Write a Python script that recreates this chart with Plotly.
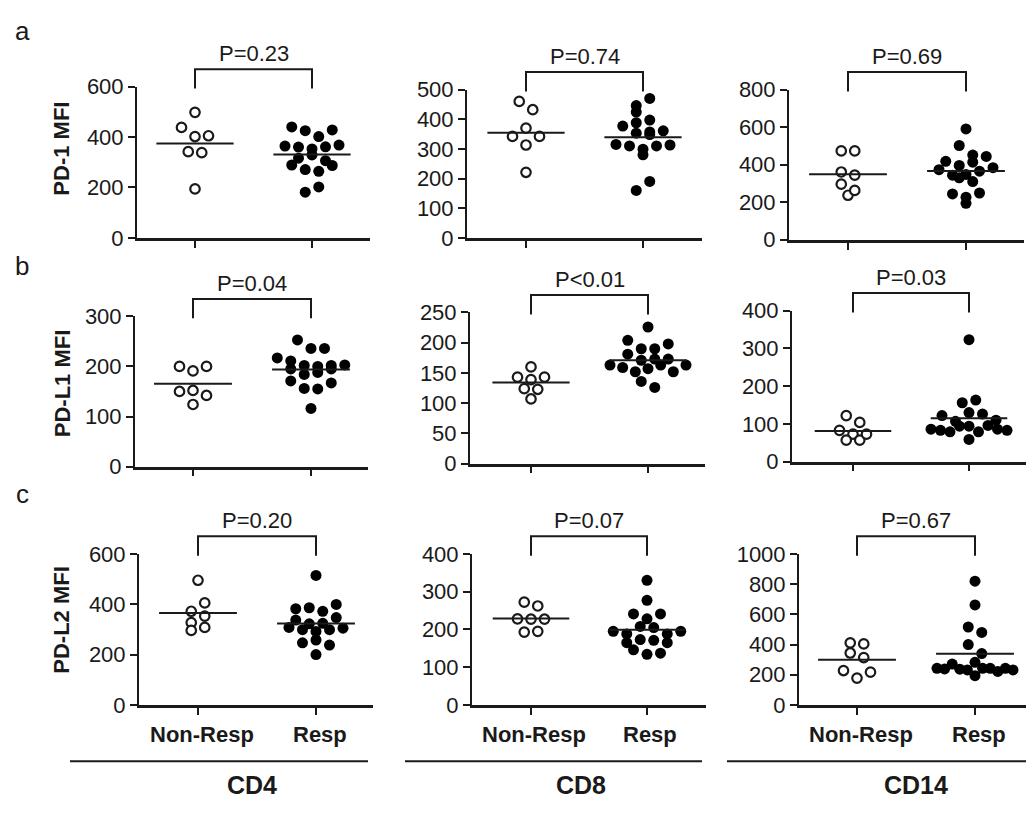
import numpy as np
import plotly.graph_objects as go

# ---------------- data ----------------
categories = ["Non-Resp", "Resp"]
cells = ["CD4", "CD8", "CD14"]
markers = ["PD-1 MFI", "PD-L1 MFI", "PD-L2 MFI"]
row_letters = ["a", "b", "c"]
p_labels = [["P=0.23", "P=0.74", "P=0.69"],
            ["P=0.04", "P<0.01", "P=0.03"],
            ["P=0.20", "P=0.07", "P=0.67"]]

pd1_cd4_nonresp = [498, 438, 402, 405, 342, 338, 194]
pd1_cd4_resp = [440, 425, 402, 428, 364, 360, 353, 361, 368, 316, 329, 306, 289, 271, 264, 287, 181, 202]
pd1_cd8_nonresp = [460, 432, 342, 370, 342, 313, 221]
pd1_cd8_resp = [446, 424, 470, 397, 377, 388, 353, 348, 357, 361, 315, 310, 299, 280, 310, 313, 160, 190]
pd1_cd14_nonresp = [473, 473, 361, 344, 296, 237, 263]
pd1_cd14_resp = [590, 502, 451, 418, 396, 413, 444, 373, 344, 330, 310, 348, 365, 384, 244, 194, 227, 249]

pdl1_cd4_nonresp = [200, 191, 200, 150, 152, 142, 124]
pdl1_cd4_resp = [253, 236, 236, 217, 211, 202, 200, 195, 184, 188, 195, 202, 203, 171, 156, 155, 167, 116]
pdl1_cd8_nonresp = [160, 143, 139, 143, 124, 107, 123]
pdl1_cd8_resp = [226, 204, 190, 190, 198, 181, 171, 173, 173, 163, 159, 152, 157, 163, 152, 163, 136, 126]
pdl1_cd14_nonresp = [122, 104, 83, 73, 57, 57, 73]
pdl1_cd14_resp = [323, 156, 163, 122, 107, 130, 126, 110, 86, 83, 79, 94, 94, 79, 96, 86, 83, 59]

pdl2_cd4_nonresp = [495, 372, 405, 327, 353, 296, 308]
pdl2_cd4_resp = [514, 382, 386, 372, 399, 308, 299, 337, 292, 322, 324, 347, 299, 305, 247, 200, 258, 238]
pdl2_cd8_nonresp = [272, 262, 228, 227, 227, 193, 195]
pdl2_cd8_resp = [330, 277, 241, 228, 241, 195, 188, 208, 205, 188, 195, 165, 146, 173, 134, 171, 137, 165]
pdl2_cd14_nonresp = [411, 404, 344, 314, 228, 178, 217]
pdl2_cd14_resp = [819, 662, 516, 480, 400, 340, 243, 239, 271, 237, 232, 282, 243, 243, 222, 243, 232, 194]

y_max = [[600, 500, 800], [300, 250, 400], [600, 400, 1000]]
y_step = [[200, 100, 200], [100, 50, 100], [200, 100, 200]]

panel_data = [
    [(pd1_cd4_nonresp, pd1_cd4_resp), (pd1_cd8_nonresp, pd1_cd8_resp), (pd1_cd14_nonresp, pd1_cd14_resp)],
    [(pdl1_cd4_nonresp, pdl1_cd4_resp), (pdl1_cd8_nonresp, pdl1_cd8_resp), (pdl1_cd14_nonresp, pdl1_cd14_resp)],
    [(pdl2_cd4_nonresp, pdl2_cd4_resp), (pdl2_cd8_nonresp, pdl2_cd8_resp), (pdl2_cd14_nonresp, pdl2_cd14_resp)],
]

# ---------------- layout geometry (pixels) ----------------
W, H = 1026, 813
# (axis left, tick1, tick2, axis right, top of y range, y zero)
geom = [
    [(137, 195, 312, 370, 77, 233), (467, 526, 643, 702, 80, 233), (789, 848, 966, 1024, 80, 235)],
    [(135, 193, 311, 368, 314, 469), (470, 531, 648, 705, 310, 466), (792, 853, 969, 1026, 308, 464)],
    [(139, 198, 316, 373, 559, 715), (472, 531, 647, 706, 559, 715), (799, 857, 975, 1026, 559, 715)],
]

FONT = "Liberation Sans, Arial, sans-serif"
INK = "#1a1a1a"


def px_x(p):
    return p / W


def px_y(p):
    return 1 - p / H


def row_scatter(vals, ppu_y, unit_x, row_h=10.0, gap=13.5, half_max=38.0):
    """Prism-style scatter: group values into horizontal rows, spread each row."""
    order = sorted(range(len(vals)), key=lambda i: -vals[i])
    rows, cur, start = [], [], None
    for i in order:
        y = vals[i] * ppu_y
        if cur and start - y > row_h:
            rows.append(cur)
            cur = []
        if not cur:
            start = y
        cur.append(i)
    if cur:
        rows.append(cur)
    offs = [0.0] * len(vals)
    for row in rows:
        row = sorted(row)
        n = len(row)
        sp = gap if n < 2 else min(gap, 2 * half_max / (n - 1))
        for j, i in enumerate(row):
            offs[i] = (j - (n - 1) / 2) * sp / unit_x
    return offs


fig = go.Figure()
layout = dict(width=W, height=H, margin=dict(l=0, r=0, t=0, b=0),
              paper_bgcolor="white", plot_bgcolor="white", showlegend=False)
annotations = []
shapes = []

for r in range(3):
    for c in range(3):
        k = r * 3 + c + 1
        x0, t1, t2, x1, ytop, ybot = geom[r][c]
        s = t2 - t1
        xr = [1 - (t1 - x0) / s, 2 + (x1 - t2) / s]
        ppu = (ybot - ytop) / y_max[r][c]
        xa = "xaxis" if k == 1 else f"xaxis{k}"
        ya = "yaxis" if k == 1 else f"yaxis{k}"
        xs = "x" if k == 1 else f"x{k}"
        ys = "y" if k == 1 else f"y{k}"
        layout[xa] = dict(domain=[px_x(x0), px_x(x1)], range=xr, anchor=ys,
                          showline=True, linewidth=2.5, linecolor=INK,
                          ticks="outside", ticklen=7, tickwidth=2, tickcolor=INK,
                          tickvals=[1, 2], showticklabels=False,
                          showgrid=False, zeroline=False, fixedrange=True)
        layout[ya] = dict(domain=[px_y(ybot), px_y(ytop)], range=[0, y_max[r][c]], anchor=xs,
                          showline=True, linewidth=2, linecolor=INK,
                          ticks="outside", ticklen=7, tickwidth=2, tickcolor=INK,
                          tickvals=list(range(0, y_max[r][c] + 1, y_step[r][c])),
                          tickfont=dict(family=FONT, size=22, color=INK),
                          showgrid=False, zeroline=False, fixedrange=True)
        nonresp, resp = panel_data[r][c]
        for gi, vals in enumerate((nonresp, resp)):
            center = gi + 1
            offs = row_scatter(vals, ppu, s)
            if gi == 0:
                mk = dict(symbol="circle", size=9.5, color="white",
                          line=dict(color=INK, width=2.2))
            else:
                mk = dict(symbol="circle", size=11, color="black",
                          line=dict(color="black", width=0))
            fig.add_trace(go.Scatter(x=[center + o for o in offs], y=vals, mode="markers",
                                     marker=mk, xaxis=xs, yaxis=ys, cliponaxis=False,
                                     hoverinfo="y"))
            m = float(np.mean(vals))
            fig.add_trace(go.Scatter(x=[center - 0.33, center + 0.33], y=[m, m], mode="lines",
                                     line=dict(color=INK, width=2), xaxis=xs, yaxis=ys,
                                     hoverinfo="skip"))
        # bracket
        b_top = ytop - 18
        b_bot = ytop + 2
        shapes.append(dict(type="path", xref=xs, yref="paper",
                           path=f"M 1,{px_y(b_bot)} L 1,{px_y(b_top)} L 2,{px_y(b_top)} L 2,{px_y(b_bot)}",
                           line=dict(color=INK, width=2)))
        annotations.append(dict(x=1.5, xref=xs, y=px_y(b_top - 16), yref="paper",
                                text=p_labels[r][c], showarrow=False, xanchor="center",
                                yanchor="middle",
                                font=dict(family=FONT, size=22, color=INK)))
        if r == 2:
            for gi, cat in enumerate(categories):
                annotations.append(dict(x=gi + 1 + 0.03, xref=xs, y=px_y(745), yref="paper",
                                        text=f"<b>{cat}</b>", showarrow=False,
                                        xanchor="center", yanchor="middle",
                                        font=dict(family=FONT, size=22, color=INK)))

# y titles and row letters
title_y = [141, 383, 627]
letter_y = [20, 262, 497]
for r in range(3):
    annotations.append(dict(x=px_x(62), y=px_y(title_y[r]), xref="paper", yref="paper",
                            text=f"<b>{markers[r]}</b>", textangle=-90, showarrow=False,
                            xanchor="center", yanchor="middle",
                            font=dict(family=FONT, size=22, color=INK)))
    annotations.append(dict(x=px_x(22), y=px_y(letter_y[r]), xref="paper", yref="paper",
                            text=row_letters[r], showarrow=False,
                            xanchor="center", yanchor="middle",
                            font=dict(family=FONT, size=26, color=INK)))

# bottom group lines and cell labels
group_lines = [(70, 368), (405, 702), (727, 1026)]
cell_x = [252, 581, 916]
for c in range(3):
    a, b = group_lines[c]
    shapes.append(dict(type="line", xref="paper", yref="paper",
                       x0=px_x(a), x1=px_x(b), y0=px_y(773), y1=px_y(773),
                       line=dict(color=INK, width=2)))
    annotations.append(dict(x=px_x(cell_x[c]), y=px_y(798), xref="paper", yref="paper",
                            text=f"<b>{cells[c]}</b>", showarrow=False,
                            xanchor="center", yanchor="middle",
                            font=dict(family=FONT, size=25, color=INK)))

layout["annotations"] = annotations
layout["shapes"] = shapes
fig.update_layout(**layout)
fig.write_html("out.html")
